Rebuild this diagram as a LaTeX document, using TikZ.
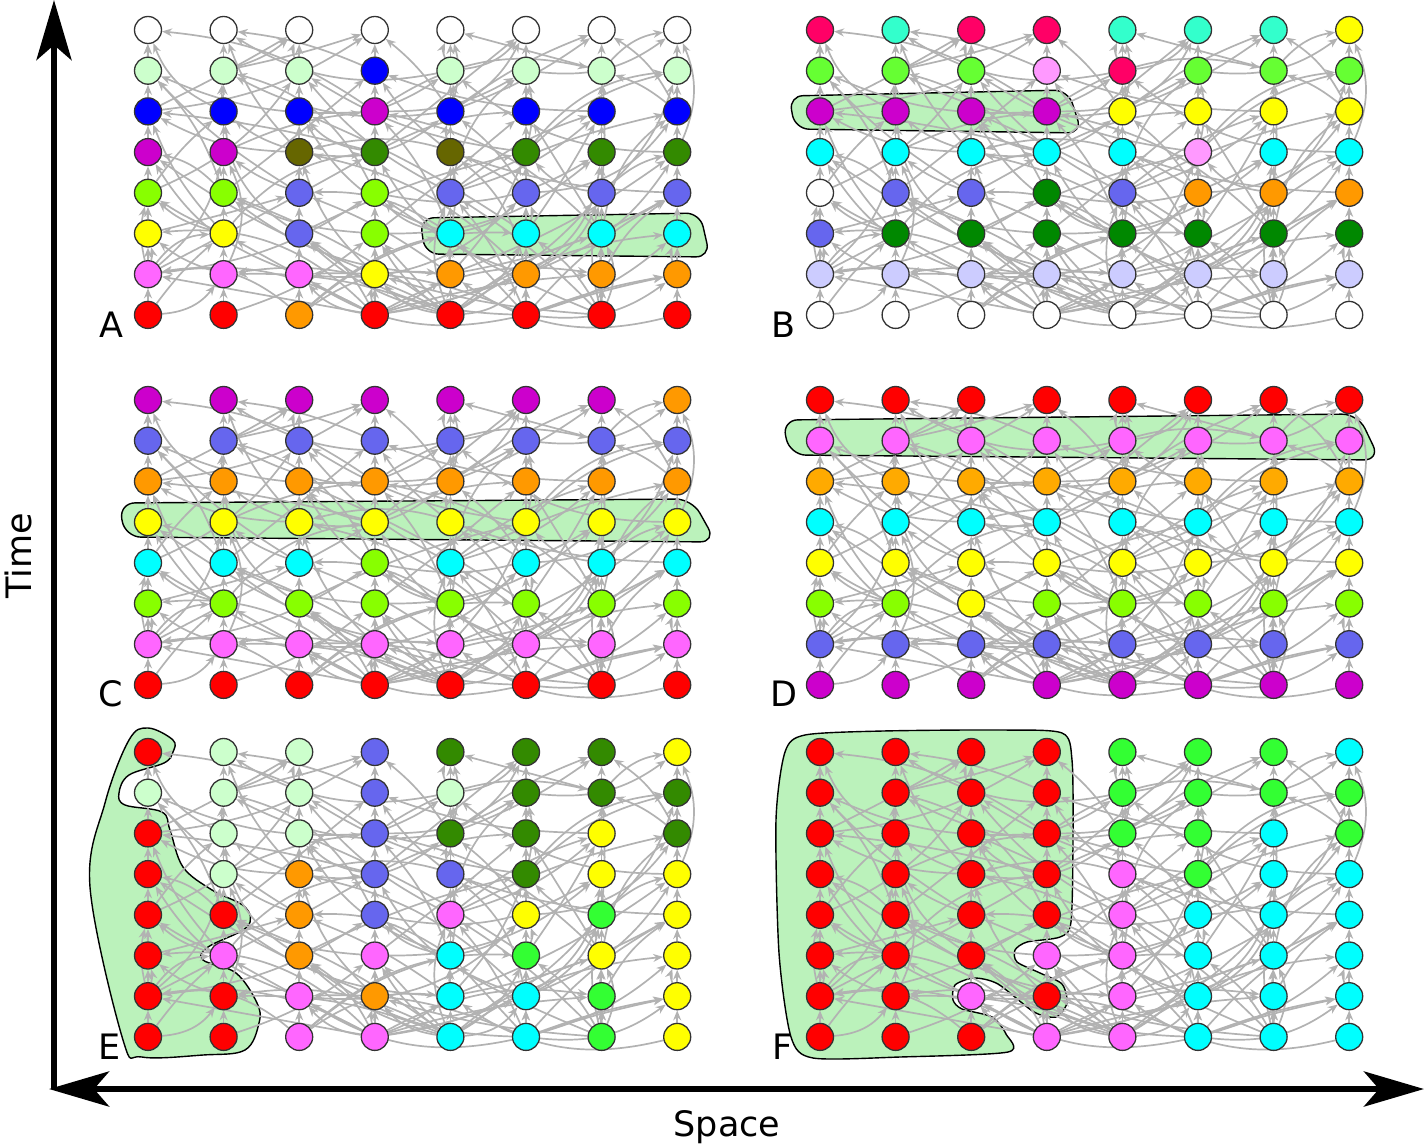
\documentclass[tikz,border=0pt]{standalone}
\usepackage{fontspec}
\setmainfont{DejaVu Sans}
\usetikzlibrary{arrows.meta, shapes.geometric}
\definecolor{cW}{HTML}{FFFFFF}
\definecolor{cLG}{HTML}{CCFFCC}
\definecolor{cB}{HTML}{0000FF}
\definecolor{cM}{HTML}{CC00CC}
\definecolor{cO}{HTML}{666600}
\definecolor{cDG}{HTML}{338A00}
\definecolor{cDGb}{HTML}{008800}
\definecolor{cL}{HTML}{88FF00}
\definecolor{cY}{HTML}{FFFF00}
\definecolor{cP}{HTML}{6666EE}
\definecolor{cC}{HTML}{00FFFF}
\definecolor{cK}{HTML}{FF66FF}
\definecolor{cOr}{HTML}{FF9900}
\definecolor{cOrD}{HTML}{FFAA00}
\definecolor{cR}{HTML}{FF0000}
\definecolor{cCr}{HTML}{FF0066}
\definecolor{cAq}{HTML}{33FFCC}
\definecolor{cG}{HTML}{66FF33}
\definecolor{cLP}{HTML}{FF99FF}
\definecolor{cLv}{HTML}{CCCCFF}
\definecolor{cBG}{HTML}{33FF33}
\definecolor{blobgreen}{HTML}{BBF2BB}
\pgfdeclarelayer{blobs}
\pgfdeclarelayer{wires}
\pgfsetlayers{blobs,wires,main}
\tikzset{
  cell/.style={circle, draw=black!80, line width=1.3pt, minimum size=27pt, inner sep=0pt},
  link/.style={-{Stealth[length=10pt,width=8pt]}, draw=black!30, line width=1.7pt},
  blob/.style={draw=black, line width=1.4pt, fill=blobgreen},
  axisline/.style={line width=6.5pt, draw=black},
  bigtip/.tip={Stealth[length=60pt,width=35pt,inset=15pt]},
  tag/.style={font=\fontsize{35}{42}\selectfont, inner sep=0pt}
}
\newcommand{\placegrid}[4]{%
  \foreach \rowcols [count=\r] in {#4} {
    \foreach \cc [count=\c] in \rowcols {
      \node[cell, fill=c\cc] (#1-\r-\c) at ({#2+75.6*(\c-1)}, {#3+40.7*(\r-1)}) {};
    }
  }
}
\newcommand{\wirenet}[1]{%
  \pgfmathsetseed{4242}
  \begin{pgfonlayer}{wires}
  \foreach \r in {1,...,7} {
    \foreach \c in {1,...,8} {
      \pgfmathtruncatemacro\rb{\r+1}
      \draw[link] (#1-\rb-\c) -- (#1-\r-\c);
      \foreach \k in {1,2,3} {
        \pgfmathrandominteger{\dd}{-3}{3}
        \pgfmathrandominteger{\bb}{-25}{25}
        \pgfmathrandominteger{\jump}{1}{3}
        \pgfmathtruncatemacro\src{max(1,min(8,ifthenelse(or(\c+\dd>8,\c+\dd<1),\c-\dd,\c+\dd)))}
        \pgfmathtruncatemacro\rs{min(8,\r+\jump)}
        \draw[link] (#1-\rs-\src) to[bend left=\bb] (#1-\r-\c);
      }
    }
  }
  \end{pgfonlayer}
}

\begin{document}
\begin{tikzpicture}[x=1pt, y=-1pt]
\useasboundingbox (0,0) rectangle (1424,1148);

\begin{pgfonlayer}{blobs}
\draw[blob, rounded corners=14pt] (420,218) -- (700,213) -- (710,257) -- (425,254) -- cycle;
\draw[blob, rounded corners=14pt] (789,96) -- (1068,90) -- (1082,133) -- (795,129) -- cycle;
\draw[blob, rounded corners=16pt] (119,503) -- (692,499) -- (716,542) -- (125,537) -- cycle;
\draw[blob, rounded corners=16pt] (782,420) -- (1358,414) -- (1380,460) -- (790,455) -- cycle;
\draw[blob] plot[smooth cycle, tension=0.6] coordinates {(148,728) (173,740) (173,752) (164,763)
  (129,775) (119,793) (125,805) (162,812) (170,830) (183,867) (212,890) (245,907) (247,927)
  (208,947) (203,960) (236,973) (257,1003) (259,1023) (245,1050) (203,1055) (142,1057)
  (123,1040) (90,887) (105,803) (129,740)};
\draw[blob] plot[smooth cycle, tension=0.45] coordinates {(805,735) (883,731) (1000,730) (1062,733)
  (1072,760) (1073,840) (1071,922) (1060,937) (1027,942) (1015,950) (1017,962) (1040,973)
  (1062,984) (1067,1003) (1056,1017) (1034,1012) (998,984) (974,978) (955,985) (953,1000)
  (962,1009) (992,1017) (1006,1034) (1008,1052) (900,1057) (813,1058) (791,1037) (779,953)
  (776,820) (785,752)};
\end{pgfonlayer}

\placegrid{A}{148}{30}{{W,W,W,W,W,W,W,W},{LG,LG,LG,B,LG,LG,LG,LG},{B,B,B,M,B,B,B,B},
  {M,M,O,DG,O,DG,DG,DG},{L,L,P,L,P,P,P,P},{Y,Y,P,L,C,C,C,C},{K,K,K,Y,Or,Or,Or,Or},{R,R,Or,R,R,R,R,R}}
\placegrid{B}{820}{30}{{Cr,Aq,Cr,Cr,Aq,Aq,Aq,Y},{G,G,G,LP,Cr,G,G,G},{M,M,M,M,Y,Y,Y,Y},
  {C,C,C,C,C,LP,C,C},{W,P,P,DGb,P,Or,Or,Or},{P,DGb,DGb,DGb,DGb,DGb,DGb,DGb},
  {Lv,Lv,Lv,Lv,Lv,Lv,Lv,Lv},{W,W,W,W,W,W,W,W}}
\placegrid{C}{148}{400}{{M,M,M,M,M,M,M,Or},{P,P,P,P,P,P,P,P},{Or,Or,Or,Or,Or,Or,Or,Or},
  {Y,Y,Y,Y,Y,Y,Y,Y},{C,C,C,L,C,C,C,C},{L,L,L,L,L,L,L,L},{K,K,K,K,K,K,K,K},{R,R,R,R,R,R,R,R}}
\placegrid{D}{820}{400}{{R,R,R,R,R,R,R,R},{K,K,K,K,K,K,K,K},{OrD,OrD,OrD,OrD,OrD,OrD,OrD,OrD},
  {C,C,C,C,C,C,C,C},{Y,Y,Y,Y,Y,Y,Y,Y},{L,L,Y,L,L,L,L,L},{P,P,P,P,P,P,P,P},{M,M,M,M,M,M,M,M}}
\placegrid{E}{148}{752}{{R,LG,LG,P,DG,DG,DG,Y},{LG,LG,LG,P,LG,DG,DG,DG},{R,LG,LG,P,DG,DG,Y,DG},
  {R,LG,Or,P,P,DG,Y,Y},{R,R,Or,P,K,Y,BG,Y},{R,K,Or,K,C,BG,Y,Y},{R,R,K,Or,C,C,BG,Y},{R,R,K,K,C,C,BG,Y}}
\placegrid{F}{820}{752}{{R,R,R,R,BG,BG,BG,C},{R,R,R,R,BG,BG,BG,BG},{R,R,R,R,BG,BG,C,BG},
  {R,R,R,R,K,BG,C,C},{R,R,R,R,K,C,C,C},{R,R,R,K,K,C,C,C},{R,R,K,R,K,C,C,C},{R,R,R,K,K,C,C,C}}

\wirenet{A}
\wirenet{B}
\wirenet{C}
\wirenet{D}
\wirenet{E}
\wirenet{F}

\node[tag] (labA) at (111,325) {A};
\node[tag] (labB) at (783,325) {B};
\node[tag] (labC) at (111,694) {C};
\node[tag] (labD) at (784,694) {D};
\node[tag] (labE) at (110,1047) {E};
\node[tag] (labF) at (783,1047) {F};

\coordinate (origin) at (54,1089);
\coordinate (timeend) at (54,0);
\coordinate (spaceleft) at (49,1089);
\coordinate (spaceright) at (1424,1089);
\draw[axisline, -bigtip] (origin) -- (timeend);
\draw[axisline, bigtip-bigtip] (spaceleft) -- (spaceright);
\node[tag, rotate=90] (timelbl) at (18,556) {Time};
\node[tag] (spacelbl) at (727,1127) {Space};
\end{tikzpicture}
\end{document}
